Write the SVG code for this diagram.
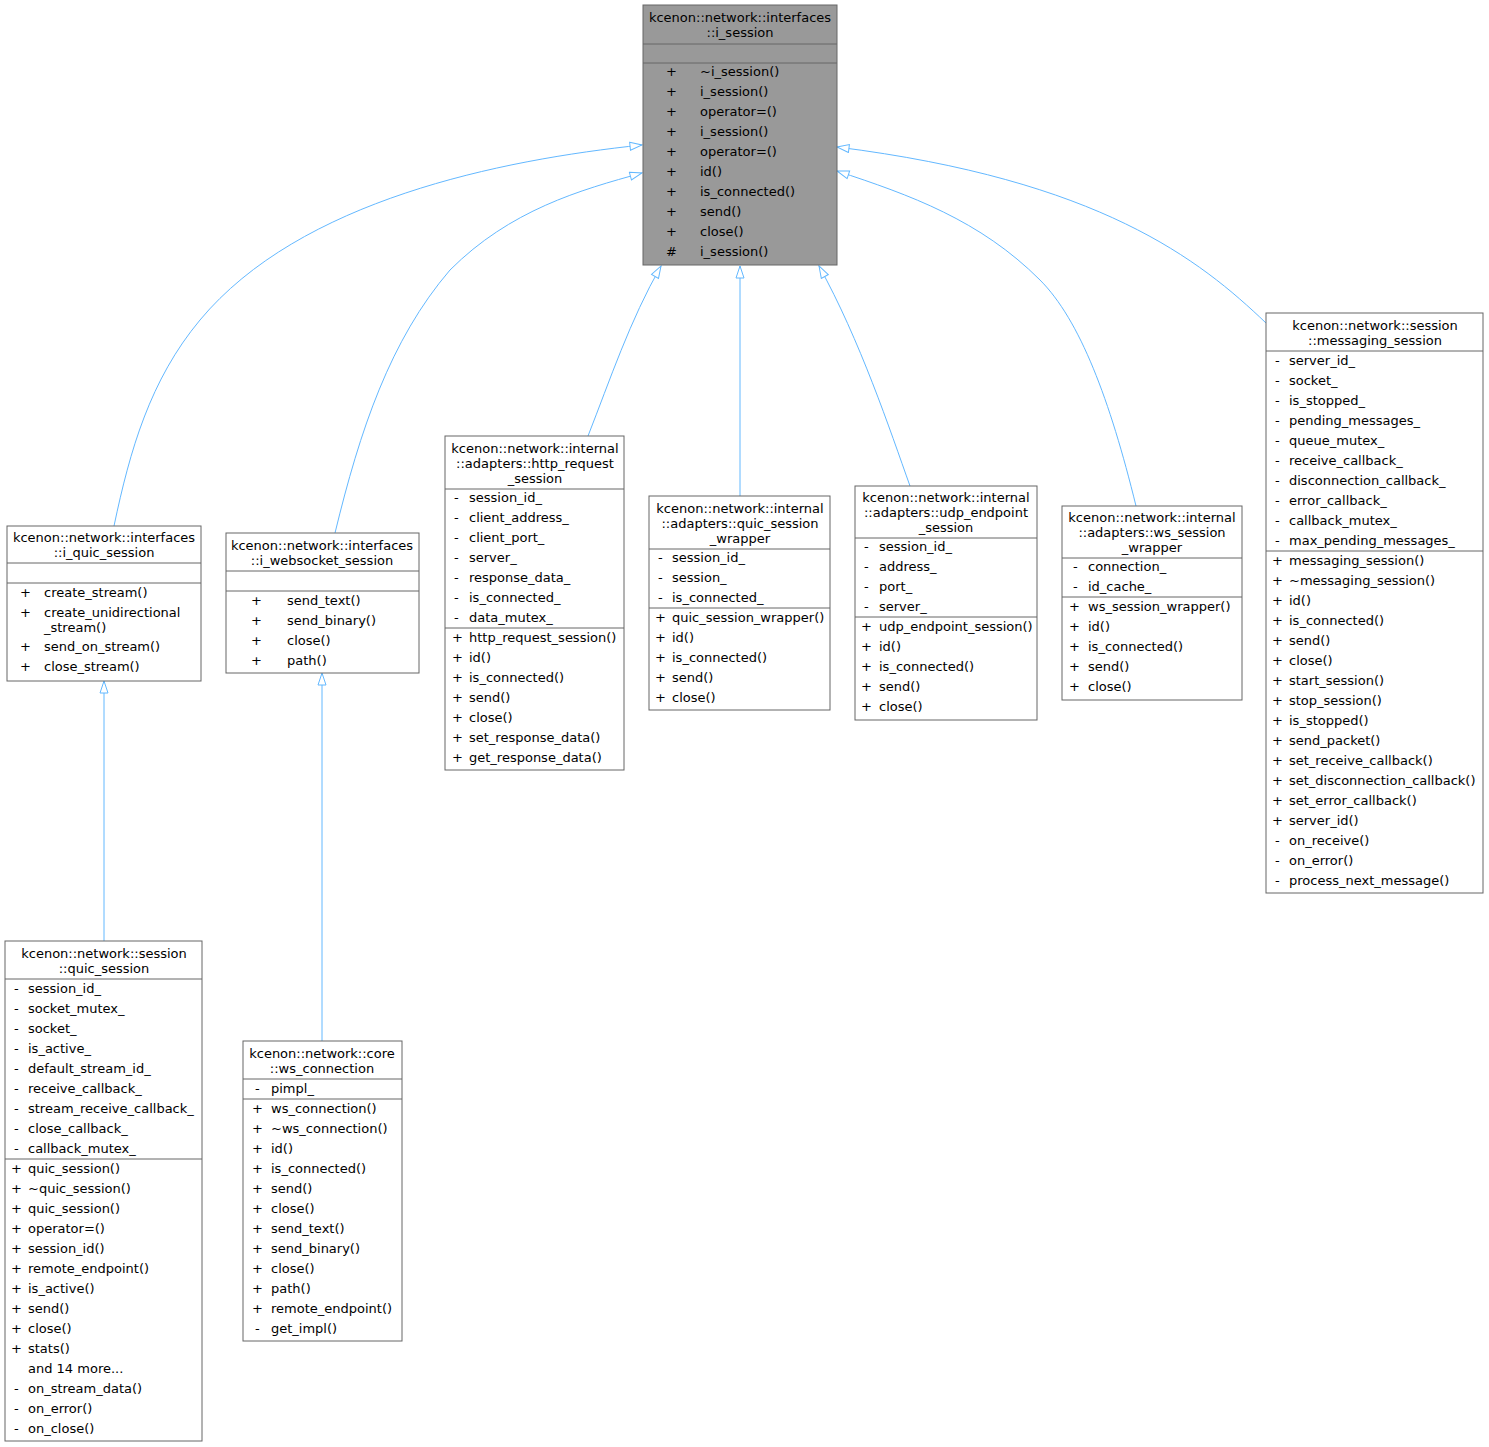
<svg xmlns="http://www.w3.org/2000/svg" width="1489" height="1447" viewBox="0 0 1489 1447">
<style>
text{font-family:"DejaVu Sans",sans-serif;font-size:13px;fill:#000}
.t{text-anchor:middle}
.b{fill:#fff;stroke:#666;stroke-width:1}
.g{fill:#999;stroke:#666;stroke-width:1}
.l{stroke:#666;stroke-width:1}
.e{fill:none;stroke:#63b8ff;stroke-width:1;marker-end:url(#a)}
</style>
<defs><marker id="a" markerWidth="14" markerHeight="12" refX="13" refY="5" orient="auto" markerUnits="userSpaceOnUse"><path d="M1,1 L13,5 L1,9 Z" fill="#fff" stroke="#63b8ff"/></marker></defs>
<rect width="1489" height="1447" fill="#fff"/>
<g id="edges">
<path class="e" d="M114,526 C130,450 150,380 200,320 C300,200 500,160 642,145"/>
<path class="e" d="M335,533 C360,430 390,340 450,270 C510,210 580,190 642,173"/>
<path class="e" d="M588,436 C610,380 630,320 661,266"/>
<path class="e" d="M740,496 L740,266"/>
<path class="e" d="M910,486 C890,430 860,340 819,266"/>
<path class="e" d="M1136,506 C1110,400 1080,320 1040,280 C980,220 910,195 837,171"/>
<path class="e" d="M1266,323 C1200,260 1100,180 837,147"/>
<path class="e" d="M104,941 L104,681"/>
<path class="e" d="M322,1041 L322,673"/>
</g>
<g id="i_session">
<rect class="g" x="643" y="5" width="194" height="260"/>
<text class="t" x="740" y="22">kcenon::network::interfaces</text><text class="t" x="740" y="37">::i_session</text>
<line class="l" x1="643" y1="44" x2="837" y2="44"/><line class="l" x1="643" y1="63" x2="837" y2="63"/>
<g><text x="666" y="76">+</text><text x="700" y="76">~i_session()</text>
<text x="666" y="96">+</text><text x="700" y="96">i_session()</text>
<text x="666" y="116">+</text><text x="700" y="116">operator=()</text>
<text x="666" y="136">+</text><text x="700" y="136">i_session()</text>
<text x="666" y="156">+</text><text x="700" y="156">operator=()</text>
<text x="666" y="176">+</text><text x="700" y="176">id()</text>
<text x="666" y="196">+</text><text x="700" y="196">is_connected()</text>
<text x="666" y="216">+</text><text x="700" y="216">send()</text>
<text x="666" y="236">+</text><text x="700" y="236">close()</text>
<text x="666" y="256">#</text><text x="700" y="256">i_session()</text></g>
</g>
<g id="i_quic_session">
<rect class="b" x="7" y="526" width="194" height="155"/>
<text class="t" x="104" y="542">kcenon::network::interfaces</text><text class="t" x="104" y="557">::i_quic_session</text>
<line class="l" x1="7" y1="563" x2="201" y2="563"/><line class="l" x1="7" y1="583" x2="201" y2="583"/>
<text x="20" y="597">+</text><text x="44" y="597">create_stream()</text>
<text x="20" y="617">+</text><text x="44" y="617">create_unidirectional</text><text x="44" y="632">_stream()</text>
<text x="20" y="651">+</text><text x="44" y="651">send_on_stream()</text>
<text x="20" y="671">+</text><text x="44" y="671">close_stream()</text>
</g>
<g id="i_websocket_session">
<rect class="b" x="226" y="533" width="193" height="140"/>
<text class="t" x="322" y="550">kcenon::network::interfaces</text><text class="t" x="322" y="565">::i_websocket_session</text>
<line class="l" x1="226" y1="571" x2="419" y2="571"/><line class="l" x1="226" y1="591" x2="419" y2="591"/>
<text x="251" y="605">+</text><text x="287" y="605">send_text()</text>
<text x="251" y="625">+</text><text x="287" y="625">send_binary()</text>
<text x="251" y="645">+</text><text x="287" y="645">close()</text>
<text x="251" y="665">+</text><text x="287" y="665">path()</text>
</g>
<g id="http_request_session">
<rect class="b" x="445" y="436" width="179" height="334"/>
<text class="t" x="535" y="453">kcenon::network::internal</text><text class="t" x="535" y="468">::adapters::http_request</text><text class="t" x="535" y="483">_session</text>
<line class="l" x1="445" y1="489" x2="624" y2="489"/>
<text x="454" y="502">-</text><text x="469" y="502">session_id_</text>
<text x="454" y="522">-</text><text x="469" y="522">client_address_</text>
<text x="454" y="542">-</text><text x="469" y="542">client_port_</text>
<text x="454" y="562">-</text><text x="469" y="562">server_</text>
<text x="454" y="582">-</text><text x="469" y="582">response_data_</text>
<text x="454" y="602">-</text><text x="469" y="602">is_connected_</text>
<text x="454" y="622">-</text><text x="469" y="622">data_mutex_</text>
<line class="l" x1="445" y1="628" x2="624" y2="628"/>
<text x="452" y="642">+</text><text x="469" y="642">http_request_session()</text>
<text x="452" y="662">+</text><text x="469" y="662">id()</text>
<text x="452" y="682">+</text><text x="469" y="682">is_connected()</text>
<text x="452" y="702">+</text><text x="469" y="702">send()</text>
<text x="452" y="722">+</text><text x="469" y="722">close()</text>
<text x="452" y="742">+</text><text x="469" y="742">set_response_data()</text>
<text x="452" y="762">+</text><text x="469" y="762">get_response_data()</text>
</g>
<g id="quic_session_wrapper">
<rect class="b" x="649" y="496" width="181" height="214"/>
<text class="t" x="740" y="513">kcenon::network::internal</text><text class="t" x="740" y="528">::adapters::quic_session</text><text class="t" x="740" y="543">_wrapper</text>
<line class="l" x1="649" y1="549" x2="830" y2="549"/>
<text x="658" y="562">-</text><text x="672" y="562">session_id_</text>
<text x="658" y="582">-</text><text x="672" y="582">session_</text>
<text x="658" y="602">-</text><text x="672" y="602">is_connected_</text>
<line class="l" x1="649" y1="608" x2="830" y2="608"/>
<text x="655" y="622">+</text><text x="672" y="622">quic_session_wrapper()</text>
<text x="655" y="642">+</text><text x="672" y="642">id()</text>
<text x="655" y="662">+</text><text x="672" y="662">is_connected()</text>
<text x="655" y="682">+</text><text x="672" y="682">send()</text>
<text x="655" y="702">+</text><text x="672" y="702">close()</text>
</g>
<g id="udp_endpoint_session">
<rect class="b" x="855" y="486" width="182" height="234"/>
<text class="t" x="946" y="502">kcenon::network::internal</text><text class="t" x="946" y="517">::adapters::udp_endpoint</text><text class="t" x="946" y="532">_session</text>
<line class="l" x1="855" y1="538" x2="1037" y2="538"/>
<text x="864" y="551">-</text><text x="879" y="551">session_id_</text>
<text x="864" y="571">-</text><text x="879" y="571">address_</text>
<text x="864" y="591">-</text><text x="879" y="591">port_</text>
<text x="864" y="611">-</text><text x="879" y="611">server_</text>
<line class="l" x1="855" y1="617" x2="1037" y2="617"/>
<text x="861" y="631">+</text><text x="879" y="631">udp_endpoint_session()</text>
<text x="861" y="651">+</text><text x="879" y="651">id()</text>
<text x="861" y="671">+</text><text x="879" y="671">is_connected()</text>
<text x="861" y="691">+</text><text x="879" y="691">send()</text>
<text x="861" y="711">+</text><text x="879" y="711">close()</text>
</g>
<g id="ws_session_wrapper">
<rect class="b" x="1062" y="506" width="180" height="194"/>
<text class="t" x="1152" y="522">kcenon::network::internal</text><text class="t" x="1152" y="537">::adapters::ws_session</text><text class="t" x="1152" y="552">_wrapper</text>
<line class="l" x1="1062" y1="558" x2="1242" y2="558"/>
<text x="1073" y="571">-</text><text x="1088" y="571">connection_</text>
<text x="1073" y="591">-</text><text x="1088" y="591">id_cache_</text>
<line class="l" x1="1062" y1="597" x2="1242" y2="597"/>
<text x="1069" y="611">+</text><text x="1088" y="611">ws_session_wrapper()</text>
<text x="1069" y="631">+</text><text x="1088" y="631">id()</text>
<text x="1069" y="651">+</text><text x="1088" y="651">is_connected()</text>
<text x="1069" y="671">+</text><text x="1088" y="671">send()</text>
<text x="1069" y="691">+</text><text x="1088" y="691">close()</text>
</g>
<g id="messaging_session">
<rect class="b" x="1266" y="313" width="217" height="580"/>
<text class="t" x="1375" y="330">kcenon::network::session</text><text class="t" x="1375" y="345">::messaging_session</text>
<line class="l" x1="1266" y1="351" x2="1483" y2="351"/>
<g>
<text x="1275" y="365">-</text><text x="1289" y="365">server_id_</text>
<text x="1275" y="385">-</text><text x="1289" y="385">socket_</text>
<text x="1275" y="405">-</text><text x="1289" y="405">is_stopped_</text>
<text x="1275" y="425">-</text><text x="1289" y="425">pending_messages_</text>
<text x="1275" y="445">-</text><text x="1289" y="445">queue_mutex_</text>
<text x="1275" y="465">-</text><text x="1289" y="465">receive_callback_</text>
<text x="1275" y="485">-</text><text x="1289" y="485">disconnection_callback_</text>
<text x="1275" y="505">-</text><text x="1289" y="505">error_callback_</text>
<text x="1275" y="525">-</text><text x="1289" y="525">callback_mutex_</text>
<text x="1275" y="545">-</text><text x="1289" y="545">max_pending_messages_</text>
</g>
<line class="l" x1="1266" y1="551" x2="1483" y2="551"/>
<g>
<text x="1272" y="565">+</text><text x="1289" y="565">messaging_session()</text>
<text x="1272" y="585">+</text><text x="1289" y="585">~messaging_session()</text>
<text x="1272" y="605">+</text><text x="1289" y="605">id()</text>
<text x="1272" y="625">+</text><text x="1289" y="625">is_connected()</text>
<text x="1272" y="645">+</text><text x="1289" y="645">send()</text>
<text x="1272" y="665">+</text><text x="1289" y="665">close()</text>
<text x="1272" y="685">+</text><text x="1289" y="685">start_session()</text>
<text x="1272" y="705">+</text><text x="1289" y="705">stop_session()</text>
<text x="1272" y="725">+</text><text x="1289" y="725">is_stopped()</text>
<text x="1272" y="745">+</text><text x="1289" y="745">send_packet()</text>
<text x="1272" y="765">+</text><text x="1289" y="765">set_receive_callback()</text>
<text x="1272" y="785">+</text><text x="1289" y="785">set_disconnection_callback()</text>
<text x="1272" y="805">+</text><text x="1289" y="805">set_error_callback()</text>
<text x="1272" y="825">+</text><text x="1289" y="825">server_id()</text>
<text x="1275" y="845">-</text><text x="1289" y="845">on_receive()</text>
<text x="1275" y="865">-</text><text x="1289" y="865">on_error()</text>
<text x="1275" y="885">-</text><text x="1289" y="885">process_next_message()</text>
</g>
</g>
<g id="quic_session">
<rect class="b" x="5" y="941" width="197" height="500"/>
<text class="t" x="104" y="958">kcenon::network::session</text><text class="t" x="104" y="973">::quic_session</text>
<line class="l" x1="5" y1="979" x2="202" y2="979"/>
<g>
<text x="14" y="993">-</text><text x="28" y="993">session_id_</text>
<text x="14" y="1013">-</text><text x="28" y="1013">socket_mutex_</text>
<text x="14" y="1033">-</text><text x="28" y="1033">socket_</text>
<text x="14" y="1053">-</text><text x="28" y="1053">is_active_</text>
<text x="14" y="1073">-</text><text x="28" y="1073">default_stream_id_</text>
<text x="14" y="1093">-</text><text x="28" y="1093">receive_callback_</text>
<text x="14" y="1113">-</text><text x="28" y="1113">stream_receive_callback_</text>
<text x="14" y="1133">-</text><text x="28" y="1133">close_callback_</text>
<text x="14" y="1153">-</text><text x="28" y="1153">callback_mutex_</text>
</g>
<line class="l" x1="5" y1="1159" x2="202" y2="1159"/>
<g>
<text x="11" y="1173">+</text><text x="28" y="1173">quic_session()</text>
<text x="11" y="1193">+</text><text x="28" y="1193">~quic_session()</text>
<text x="11" y="1213">+</text><text x="28" y="1213">quic_session()</text>
<text x="11" y="1233">+</text><text x="28" y="1233">operator=()</text>
<text x="11" y="1253">+</text><text x="28" y="1253">session_id()</text>
<text x="11" y="1273">+</text><text x="28" y="1273">remote_endpoint()</text>
<text x="11" y="1293">+</text><text x="28" y="1293">is_active()</text>
<text x="11" y="1313">+</text><text x="28" y="1313">send()</text>
<text x="11" y="1333">+</text><text x="28" y="1333">close()</text>
<text x="11" y="1353">+</text><text x="28" y="1353">stats()</text>
<text x="28" y="1373">and 14 more...</text>
<text x="14" y="1393">-</text><text x="28" y="1393">on_stream_data()</text>
<text x="14" y="1413">-</text><text x="28" y="1413">on_error()</text>
<text x="14" y="1433">-</text><text x="28" y="1433">on_close()</text>
</g>
</g>
<g id="ws_connection">
<rect class="b" x="243" y="1041" width="159" height="300"/>
<text class="t" x="322" y="1058">kcenon::network::core</text><text class="t" x="322" y="1073">::ws_connection</text>
<line class="l" x1="243" y1="1079" x2="402" y2="1079"/>
<text x="255" y="1093">-</text><text x="271" y="1093">pimpl_</text>
<line class="l" x1="243" y1="1099" x2="402" y2="1099"/>
<g>
<text x="252" y="1113">+</text><text x="271" y="1113">ws_connection()</text>
<text x="252" y="1133">+</text><text x="271" y="1133">~ws_connection()</text>
<text x="252" y="1153">+</text><text x="271" y="1153">id()</text>
<text x="252" y="1173">+</text><text x="271" y="1173">is_connected()</text>
<text x="252" y="1193">+</text><text x="271" y="1193">send()</text>
<text x="252" y="1213">+</text><text x="271" y="1213">close()</text>
<text x="252" y="1233">+</text><text x="271" y="1233">send_text()</text>
<text x="252" y="1253">+</text><text x="271" y="1253">send_binary()</text>
<text x="252" y="1273">+</text><text x="271" y="1273">close()</text>
<text x="252" y="1293">+</text><text x="271" y="1293">path()</text>
<text x="252" y="1313">+</text><text x="271" y="1313">remote_endpoint()</text>
<text x="255" y="1333">-</text><text x="271" y="1333">get_impl()</text>
</g>
</g>
</svg>
